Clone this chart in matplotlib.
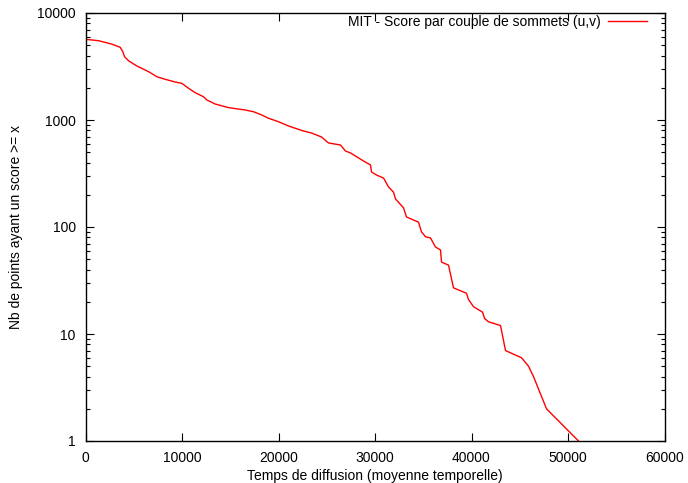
import matplotlib
matplotlib.use("Agg")
import matplotlib.pyplot as plt
from matplotlib.ticker import FixedLocator, LogLocator, NullFormatter

plt.rcParams['font.family'] = ['Liberation Sans', 'DejaVu Sans']

# Data (score threshold vs count)
x_vals = [0, 1347, 2694, 3596, 3865, 4042, 4456, 5316, 6529, 7389, 8259, 9296,
          9979, 10674, 11368, 12228, 12570, 13441, 14819, 16549, 17410, 18270,
          18965, 20000, 21037, 22591, 23420, 24457, 25182, 26426, 26944, 27462,
          28809, 29534, 29638, 30156, 30881, 31399, 31917, 32125, 32954, 33265,
          34509, 34820, 35234, 35752, 36270, 36789, 36892, 37618, 38136, 39483,
          39690, 40208, 41141, 41348, 41763, 43006, 43524, 45182, 45907, 46425,
          47772, 51088]
y_vals = [5680, 5510, 5130, 4780, 4350, 3910, 3580, 3200, 2830, 2540, 2400, 2265,
          2200, 1980, 1800, 1650, 1540, 1410, 1305, 1240, 1195, 1113,
          1038, 964, 879, 789, 756, 694, 610, 584, 513, 492,
          414, 380, 327, 306, 287, 237, 212, 183, 151, 124,
          111, 90, 81, 79, 65, 61, 47, 44, 27, 24,
          21, 18, 16, 14, 13, 12, 7, 6, 5, 4,
          2, 1]

x_ticks = [0, 10000, 20000, 30000, 40000, 50000, 60000]
y_ticks = [1, 10, 100, 1000, 10000]
series_label = "MIT - Score par couple de sommets (u,v)"
x_label = "Temps de diffusion (moyenne temporelle)"
y_label = "Nb de points ayant un score >= x"

fs = 10
L, R, T, B = 85.5, 664.5, 13, 441

fig = plt.figure(figsize=(6.88, 4.83), dpi=100)
ax = fig.add_axes([L/688, 1-B/483, (R-L)/688, (B-T)/483])

ax.plot(x_vals, y_vals, color='#ff0000', lw=1.0, label=series_label)
ax.set_yscale('log')
ax.set_xlim(0, 60000)
ax.set_ylim(1, 10000)

ax.xaxis.set_major_locator(FixedLocator(x_ticks))
ax.set_xticklabels([str(t) for t in x_ticks])
ax.yaxis.set_major_locator(FixedLocator(y_ticks))
ax.set_yticklabels([str(t) for t in y_ticks])
ax.yaxis.set_minor_locator(LogLocator(base=10, subs=range(2, 10)))
ax.yaxis.set_minor_formatter(NullFormatter())

ax.tick_params(which='both', direction='in', top=True, right=True, labelsize=fs,
               colors='black', width=0.8)
ax.tick_params(which='major', length=6)
ax.tick_params(which='minor', length=3)
ax.tick_params(axis='x', which='major', pad=7)
ax.tick_params(axis='y', which='major', pad=7)
for s in ax.spines.values():
    s.set_linewidth(1.0)

ax.set_xlabel(x_label, fontsize=fs, labelpad=3)
ax.set_ylabel(y_label, fontsize=fs, labelpad=10)

ax.legend(loc='upper right', frameon=False, markerfirst=False, fontsize=fs,
          handlelength=2.8, borderaxespad=0, borderpad=0, handletextpad=0.5,
          bbox_to_anchor=((647-L)/(R-L), 0.996))

fig.savefig('out.png', dpi=100)
